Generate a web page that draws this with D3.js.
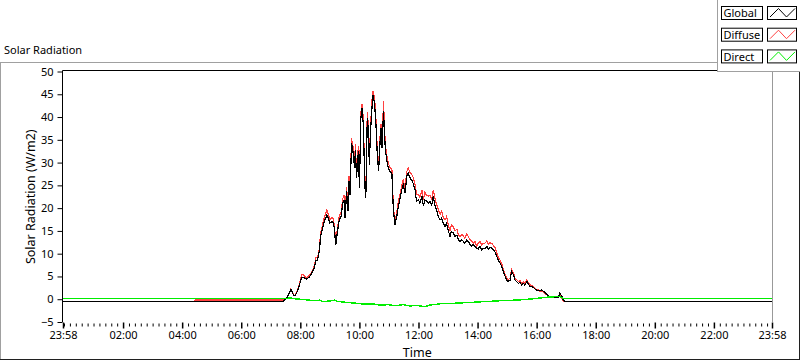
<!DOCTYPE html>
<html>
<head>
<meta charset="utf-8">
<script src="https://d3js.org/d3.v7.min.js"></script>
<style>
  body { margin: 0; background: #fff; }
  svg { display: block; font-family: "Noto Sans", sans-serif; }
</style>
</head>
<body>
<div id="vis"></div>
<script>
/* data: minutes since midnight, values in W/m2 */

const minutes = [-2, 265, 267,
  445,452,456,461,466,469,474,478,483,487,492,498,503,508,512,515,519,521,525,529,534,537,540,546,549,552,555,559,
  563,566,569,571,574,577,579,581,584,588,590,592,594,598,600,603,605,608,610,611,613,616,619,620,623,626,628,631,
  634,636,639,642,644,646,649,651,653,656,659,662,666,669,672,676,679,682,686,689,693,696,699,703,706,709,713,716,
  720,723,727,730,733,737,740,743,747,750,754,757,760,764,767,770,774,777,781,784,787,791,794,798,801,804,808,811,
  814,818,821,825,828,831,835,838,841,845,848,852,855,859,862,865,869,872,875,879,882,886,889,892,896,899,902,906,
  909,913,916,919,923,926,930,933,936,940,943,946,950,953,957,960,963,967,970,974,977,980,984,987,997,1004,1007,
  1011,1014,1018, 1438];

const globalVals = [-0.45, -0.45, -0.45,
  -0.45,0.2,0.95,2.2,0.9,0.7,1.7,3.1,4.8,4.8,4.4,4.8,5.7,6.8,8.5,8.6,10.8,13.8,15.6,17.1,18.5,17.8,16.7,17.1,15.6,11.9,14.5,17.4,
  18.2,21.1,21.8,17.9,23.7,19.3,25.9,22.9,34.3,31.7,28.8,32.8,26.6,32.5,24.4,39.8,42,38.4,29.5,25.1,22.2,39.8,36.1,29.5,37.6,42.7,44.9,42.7,
  37.6,32.5,28.1,34.7,37.6,33.2,41.3,36.1,32.5,30.3,28.8,28.1,27.5,19.6,16.3,18.2,20.4,21.8,24,25.1,23.3,27,27.7,26.6,26.2,25.5,24,21.5,
  21.8,21.1,22.6,20.4,21.8,21.5,21.1,21.5,20.7,22.6,20.4,19.6,18.2,17.4,17.8,16.7,16,16.7,14.9,13.8,14.9,14.5,13.8,14.1,13,12.7,13,12.7,
  12.3,13,12.7,12.0,11.6,12.0,11.6,11.2,11.0,11.6,10.8,11.2,11.2,11.6,11,11.4,11.2,10.8,10.5,9.4,8.6,7.9,7.2,6.1,5,4.2,3.9,4.2,
  6.1,5.3,4.2,3.9,3.5,3.7,3.1,3.5,3.1,3.9,3.4,2.9,2.8,2.6,2.2,2.0,2.0,1.8,2.0,1.7,1.5,1.2,0.7,0.4,0.4,0.4,1.3,
  0.7,-0.2,-0.45, -0.45];

const diffuseVals = [-0.45, -0.45, -0.15,
  -0.15,0.2,1.0,2.3,1.0,0.8,1.8,3.3,5.4,5.3,4.7,5.2,6.0,7.2,9.2,9.0,11.3,14.3,16.3,18.0,19.6,18.6,17.5,18.0,16.3,12.4,15.2,18.2,
  19.2,22.0,22.8,18.8,24.6,20.2,27.0,23.8,35.3,32.8,29.8,34.0,27.5,33.6,25.3,40.9,42.9,39.6,30.5,26.0,23.0,41.0,37.2,30.4,38.8,44.2,45.8,44.0,
  38.8,33.5,29.0,35.8,38.5,34.2,43.5,37.3,33.6,31.4,29.8,29.0,28.4,20.4,17.0,19.0,21.4,22.8,25.0,26.3,24.3,28.0,28.8,27.8,27.5,26.8,25.2,23.0,
  23.0,22.4,24.0,21.8,23.4,22.8,22.6,22.8,22.0,24.0,21.8,20.9,19.8,18.7,19.3,18.0,17.4,18.1,16.2,15.0,16.3,15.8,15.0,15.4,14.2,13.8,14.2,13.9,
  13.4,14.3,13.8,13.0,12.7,12.3,12.7,11.6,12.3,12.7,11.9,12.3,12.3,12.8,12.0,12.4,12.3,11.8,11.4,10.2,9.3,8.5,7.8,6.6,5.4,4.6,4.3,4.6,
  6.6,5.8,4.6,4.3,3.9,4.1,3.5,3.9,3.4,4.3,3.7,3.2,3.0,2.8,2.4,2.1,2.1,1.7,1.8,1.5,1.3,1.0,0.6,0.3,0.3,0.3,0.9,
  0.2,-0.45,-0.45, -0.45];

const directMin = [-2, 266, 268, 449, 459, 469, 479, 490, 506, 520, 526, 540, 550, 556, 575, 595, 611, 626, 642, 658,
  672, 689, 703, 713, 723, 733, 743, 764, 790, 825, 859, 892, 926, 953, 981, 1007, 1013, 1438];
const directVals = [0.2, 0.2, 0.15, 0.1, 0.3, 0.1, 0.0, -0.1, -0.3, -0.2, -0.5, -0.4, -0.2, -0.5, -0.7, -0.9, -1.1, -1.0, -1.3, -1.2,
  -1.4, -1.2, -1.5, -1.3, -1.5, -1.6, -1.3, -1.0, -0.9, -0.7, -0.5, -0.3, -0.15, 0.1, 0.45, 0.6, 0.2, 0.2];

const xMajor = [-2, 120, 240, 360, 480, 600, 720, 840, 960, 1080, 1200, 1320, 1438];
const yTicks = [-5, 0, 5, 10, 15, 20, 25, 30, 35, 40, 45, 50];
const seriesNames = ["Global", "Diffuse", "Direct"];
const seriesColors = ["#000000", "#ff4040", "#00ee00"];

const width = 800, height = 361;
const plot = {left: 62.5, right: 772, top: 71.5, bottom: 322};

const svg = d3.select("#vis").append("svg")
  .attr("width", width)
  .attr("height", height);

const x = d3.scaleLinear().domain([-2, 1438]).range([plot.left + 0.5, plot.right]);
const y = d3.scaleLinear().domain([-5, 50]).range([plot.bottom, plot.top]);

const fmt = m => {
  let mm = ((m % 1440) + 1440) % 1440;
  return d3.format("02")(Math.floor(mm / 60)) + ":" + d3.format("02")(mm % 60);
};

// outer panel
svg.append("line").attr("x1", 0).attr("x2", 717).attr("y1", 62.5).attr("y2", 62.5).attr("stroke", "#a0a0a0");
svg.append("line").attr("x1", 0.5).attr("x2", 0.5).attr("y1", 62).attr("y2", 360).attr("stroke", "#a0a0a0");
svg.append("line").attr("x1", 0).attr("x2", 800).attr("y1", 359.5).attr("y2", 359.5).attr("stroke", "#202020");
svg.append("line").attr("x1", 799.5).attr("x2", 799.5).attr("y1", 62).attr("y2", 360).attr("stroke", "#202020");

svg.append("text").attr("x", 4).attr("y", 54)
  .attr("font-size", 11).attr("fill", "#000").text("Solar Radiation");

// plot frame
svg.append("line").attr("x1", plot.left).attr("x2", plot.right).attr("y1", 70.5).attr("y2", 70.5).attr("stroke", "#000");
svg.append("line").attr("x1", plot.left).attr("x2", plot.left).attr("y1", 70.5).attr("y2", plot.bottom).attr("stroke", "#000");
svg.append("line").attr("x1", plot.right + 0.5).attr("x2", plot.right + 0.5).attr("y1", 70.5).attr("y2", plot.bottom).attr("stroke", "#999");

// y axis
const yAxis = svg.append("g")
  .attr("transform", `translate(${plot.left},0)`)
  .call(d3.axisLeft(y).tickValues(yTicks).tickSize(5).tickPadding(4));
yAxis.select(".domain").remove();
yAxis.selectAll("text").attr("font-size", 11).attr("font-family", "Noto Sans").attr("fill", "#000");

// x axis, minor ticks then major ticks
const minor = d3.range(0, 1438, 12).filter(m => !xMajor.includes(m));
const xMinor = svg.append("g")
  .attr("transform", `translate(0,${plot.bottom + 1.5})`)
  .call(d3.axisBottom(x).tickValues(minor).tickSize(3).tickFormat(""));
xMinor.select(".domain").remove();

const xAxis = svg.append("g")
  .attr("transform", `translate(0,${plot.bottom + 0.5})`)
  .call(d3.axisBottom(x).tickValues(xMajor).tickSize(6).tickPadding(3).tickFormat(fmt));
xAxis.select(".domain").remove();
xAxis.selectAll("line").attr("stroke-width", 1.5);
xAxis.selectAll("text").attr("font-size", 11).attr("font-family", "Noto Sans").attr("fill", "#000");

// axis titles
svg.append("text")
  .attr("transform", `translate(35,${(plot.top + plot.bottom) / 2}) rotate(-90)`)
  .attr("text-anchor", "middle")
  .attr("font-size", 12.5).text("Solar Radiation (W/m2)");
svg.append("text")
  .attr("x", (plot.left + plot.right) / 2).attr("y", 357)
  .attr("text-anchor", "middle")
  .attr("font-size", 12.5).text("Time");

// lines
svg.append("clipPath").attr("id", "clip")
  .append("rect").attr("x", plot.left + 0.5).attr("y", 71).attr("width", plot.right - plot.left - 0.5).attr("height", plot.bottom - 71);

const g = svg.append("g").attr("clip-path", "url(#clip)").attr("shape-rendering", "crispEdges");

const line = d3.line().x(d => x(d[0])).y(d => y(d[1]));

g.append("path")
  .datum(minutes.map((m, i) => [m, diffuseVals[i]]))
  .attr("fill", "none").attr("stroke", seriesColors[1]).attr("stroke-width", 1.2)
  .attr("d", line);
g.append("path")
  .datum(minutes.map((m, i) => [m, globalVals[i]]))
  .attr("fill", "none").attr("stroke", seriesColors[0]).attr("stroke-width", 1.2)
  .attr("d", line);
g.append("path")
  .datum(directMin.map((m, i) => [m, directVals[i]]))
  .attr("fill", "none").attr("stroke", seriesColors[2]).attr("stroke-width", 1.4)
  .attr("d", line);

// legend
const leg = svg.append("g");
leg.append("rect").attr("x", 717.5).attr("y", -1).attr("width", 84).attr("height", 72.5)
  .attr("fill", "#fff").attr("stroke", "#a0a0a0");

seriesNames.forEach((name, i) => {
  const top = 6.5 + i * 21.7;
  leg.append("rect").attr("x", 721.5).attr("y", top).attr("width", 41).attr("height", 13)
    .attr("fill", "#fff").attr("stroke", "#000");
  leg.append("text").attr("x", 723.5).attr("y", top + 10.8)
    .attr("font-size", 11).attr("fill", "#000").text(name);
  leg.append("rect").attr("x", 767.5).attr("y", top).attr("width", 29).attr("height", 13)
    .attr("fill", "#fff").attr("stroke", "#000");
  const zz = [[770, top + 10.5], [778.5, top + 2], [786.5, top + 10.5], [795, top + 2]];
  leg.append("path")
    .attr("d", d3.line()(zz))
    .attr("fill", "none").attr("stroke", seriesColors[i]).attr("stroke-width", 1);
});
</script>
</body>
</html>
